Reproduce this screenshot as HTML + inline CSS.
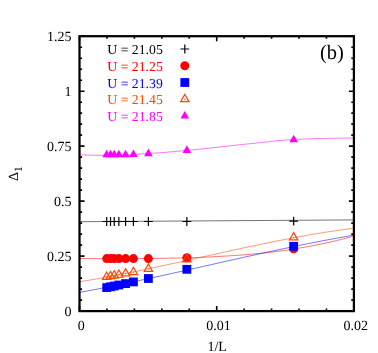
<!DOCTYPE html>
<html><head><meta charset="utf-8"><title>plot</title>
<style>html,body{margin:0;padding:0;background:#fff;}body{width:378px;height:353px;overflow:hidden;}svg{display:block;will-change:transform;}text{font-family:"Liberation Serif",serif;text-rendering:geometricPrecision;}</style></head><body>
<svg width="378" height="353" viewBox="0 0 378 353">
<rect width="378" height="353" fill="#fff"/>
<path d="M79.50,221.70 L353.90,219.90" fill="none" stroke="#000" stroke-width="0.55"/>
<path d="M79.50,258.60 L82.97,258.60 L86.45,258.60 L89.92,258.60 L93.39,258.60 L96.87,258.60 L100.34,258.60 L103.81,258.60 L107.29,258.60 L110.76,258.60 L114.23,258.60 L117.71,258.60 L121.18,258.60 L124.65,258.60 L128.13,258.60 L131.60,258.60 L135.07,258.60 L138.55,258.59 L142.02,258.57 L145.49,258.54 L148.97,258.51 L152.44,258.47 L155.92,258.42 L159.39,258.36 L162.86,258.31 L166.34,258.24 L169.81,258.17 L173.28,258.10 L176.76,258.03 L180.23,257.95 L183.70,257.88 L187.18,257.80 L190.65,257.71 L194.12,257.60 L197.60,257.48 L201.07,257.34 L204.54,257.19 L208.02,257.03 L211.49,256.85 L214.96,256.67 L218.44,256.48 L221.91,256.28 L225.38,256.08 L228.86,255.87 L232.33,255.65 L235.80,255.42 L239.28,255.17 L242.75,254.90 L246.22,254.62 L249.70,254.32 L253.17,254.01 L256.64,253.68 L260.12,253.34 L263.59,252.98 L267.06,252.62 L270.54,252.24 L274.01,251.83 L277.48,251.39 L280.96,250.91 L284.43,250.41 L287.91,249.89 L291.38,249.35 L294.85,248.80 L298.33,248.23 L301.80,247.65 L305.27,247.04 L308.75,246.41 L312.22,245.76 L315.69,245.09 L319.17,244.40 L322.64,243.69 L326.11,242.96 L329.59,242.20 L333.06,241.41 L336.53,240.59 L340.01,239.74 L343.48,238.87 L346.95,237.97 L350.43,237.04 L353.90,236.10" fill="none" stroke="#ff0000" stroke-width="0.55"/>
<path d="M79.50,281.75 L82.97,281.18 L86.45,280.61 L89.92,280.03 L93.39,279.43 L96.87,278.82 L100.34,278.21 L103.81,277.58 L107.29,276.94 L110.76,276.29 L114.23,275.64 L117.71,274.97 L121.18,274.30 L124.65,273.62 L128.13,272.93 L131.60,272.23 L135.07,271.53 L138.55,270.81 L142.02,270.10 L145.49,269.37 L148.97,268.64 L152.44,267.91 L155.92,267.17 L159.39,266.42 L162.86,265.68 L166.34,264.92 L169.81,264.17 L173.28,263.41 L176.76,262.65 L180.23,261.88 L183.70,261.11 L187.18,260.34 L190.65,259.57 L194.12,258.80 L197.60,258.03 L201.07,257.26 L204.54,256.49 L208.02,255.71 L211.49,254.94 L214.96,254.17 L218.44,253.40 L221.91,252.63 L225.38,251.87 L228.86,251.10 L232.33,250.34 L235.80,249.59 L239.28,248.83 L242.75,248.08 L246.22,247.34 L249.70,246.60 L253.17,245.86 L256.64,245.13 L260.12,244.40 L263.59,243.68 L267.06,242.97 L270.54,242.26 L274.01,241.56 L277.48,240.87 L280.96,240.19 L284.43,239.51 L287.91,238.84 L291.38,238.18 L294.85,237.53 L298.33,236.89 L301.80,236.26 L305.27,235.64 L308.75,235.03 L312.22,234.43 L315.69,233.84 L319.17,233.26 L322.64,232.70 L326.11,232.15 L329.59,231.61 L333.06,231.08 L336.53,230.57 L340.01,230.07 L343.48,229.58 L346.95,229.11 L350.43,228.65 L353.90,228.21" fill="none" stroke="#ff4500" stroke-width="0.55"/>
<path d="M79.50,292.40 L82.97,291.76 L86.45,291.12 L89.92,290.47 L93.39,289.81 L96.87,289.15 L100.34,288.48 L103.81,287.80 L107.29,287.12 L110.76,286.42 L114.23,285.73 L117.71,285.02 L121.18,284.31 L124.65,283.60 L128.13,282.88 L131.60,282.15 L135.07,281.42 L138.55,280.69 L142.02,279.95 L145.49,279.21 L148.97,278.46 L152.44,277.71 L155.92,276.95 L159.39,276.19 L162.86,275.43 L166.34,274.67 L169.81,273.90 L173.28,273.13 L176.76,272.36 L180.23,271.59 L183.70,270.81 L187.18,270.03 L190.65,269.26 L194.12,268.48 L197.60,267.70 L201.07,266.91 L204.54,266.13 L208.02,265.35 L211.49,264.57 L214.96,263.79 L218.44,263.00 L221.91,262.22 L225.38,261.44 L228.86,260.66 L232.33,259.89 L235.80,259.11 L239.28,258.33 L242.75,257.56 L246.22,256.79 L249.70,256.02 L253.17,255.26 L256.64,254.49 L260.12,253.73 L263.59,252.97 L267.06,252.22 L270.54,251.47 L274.01,250.72 L277.48,249.98 L280.96,249.24 L284.43,248.51 L287.91,247.78 L291.38,247.06 L294.85,246.34 L298.33,245.63 L301.80,244.92 L305.27,244.22 L308.75,243.52 L312.22,242.83 L315.69,242.15 L319.17,241.48 L322.64,240.81 L326.11,240.14 L329.59,239.49 L333.06,238.84 L336.53,238.20 L340.01,237.57 L343.48,236.95 L346.95,236.33 L350.43,235.73 L353.90,235.13" fill="none" stroke="#0000ff" stroke-width="0.55"/>
<path d="M79.50,154.90 L82.97,154.99 L86.45,155.08 L89.92,155.15 L93.39,155.22 L96.87,155.27 L100.34,155.30 L103.81,155.33 L107.29,155.36 L110.76,155.38 L114.23,155.39 L117.71,155.40 L121.18,155.35 L124.65,155.22 L128.13,155.02 L131.60,154.79 L135.07,154.52 L138.55,154.13 L142.02,153.85 L145.49,153.63 L148.97,153.43 L152.44,153.24 L155.92,153.04 L159.39,152.80 L162.86,152.54 L166.34,152.25 L169.81,151.96 L173.28,151.65 L176.76,151.33 L180.23,151.01 L183.70,150.69 L187.18,150.36 L190.65,150.03 L194.12,149.69 L197.60,149.34 L201.07,148.99 L204.54,148.63 L208.02,148.25 L211.49,147.88 L214.96,147.50 L218.44,147.13 L221.91,146.75 L225.38,146.36 L228.86,145.98 L232.33,145.60 L235.80,145.21 L239.28,144.83 L242.75,144.46 L246.22,144.09 L249.70,143.73 L253.17,143.37 L256.64,142.99 L260.12,142.61 L263.59,142.22 L267.06,141.83 L270.54,141.45 L274.01,141.08 L277.48,140.73 L280.96,140.41 L284.43,140.11 L287.91,139.85 L291.38,139.62 L294.85,139.44 L298.33,139.27 L301.80,139.12 L305.27,138.98 L308.75,138.85 L312.22,138.73 L315.69,138.63 L319.17,138.53 L322.64,138.45 L326.11,138.38 L329.59,138.31 L333.06,138.25 L336.53,138.19 L340.01,138.13 L343.48,138.09 L346.95,138.05 L350.43,138.02 L353.90,138.00" fill="none" stroke="#ff00ff" stroke-width="0.55"/>
<path d="M102.31,221.50H111.11M106.71,217.10V225.90" stroke="#000" stroke-width="1.2" fill="none"/>
<path d="M106.12,221.50H114.92M110.52,217.10V225.90" stroke="#000" stroke-width="1.2" fill="none"/>
<path d="M109.79,221.50H118.59M114.19,217.10V225.90" stroke="#000" stroke-width="1.2" fill="none"/>
<path d="M114.45,221.50H123.25M118.85,217.10V225.90" stroke="#000" stroke-width="1.2" fill="none"/>
<path d="M121.18,221.50H129.98M125.58,217.10V225.90" stroke="#000" stroke-width="1.2" fill="none"/>
<path d="M129.02,221.50H137.82M133.42,217.10V225.90" stroke="#000" stroke-width="1.2" fill="none"/>
<path d="M143.97,221.50H152.78M148.38,217.10V225.90" stroke="#000" stroke-width="1.2" fill="none"/>
<path d="M182.44,221.50H191.24M186.84,217.10V225.90" stroke="#000" stroke-width="1.2" fill="none"/>
<path d="M289.27,221.20H298.07M293.67,216.80V225.60" stroke="#000" stroke-width="1.2" fill="none"/>
<circle cx="106.71" cy="258.60" r="4.50" fill="#ff0000"/>
<circle cx="110.52" cy="258.60" r="4.50" fill="#ff0000"/>
<circle cx="114.19" cy="258.60" r="4.50" fill="#ff0000"/>
<circle cx="118.85" cy="258.60" r="4.50" fill="#ff0000"/>
<circle cx="125.58" cy="258.60" r="4.50" fill="#ff0000"/>
<circle cx="133.42" cy="258.60" r="4.50" fill="#ff0000"/>
<circle cx="148.38" cy="258.60" r="4.50" fill="#ff0000"/>
<circle cx="186.84" cy="257.70" r="4.50" fill="#ff0000"/>
<circle cx="293.67" cy="248.70" r="4.50" fill="#ff0000"/>
<rect x="102.31" y="283.20" width="8.80" height="8.80" fill="#0000ff"/>
<rect x="106.12" y="282.40" width="8.80" height="8.80" fill="#0000ff"/>
<rect x="109.79" y="281.60" width="8.80" height="8.80" fill="#0000ff"/>
<rect x="114.45" y="280.60" width="8.80" height="8.80" fill="#0000ff"/>
<rect x="121.18" y="279.20" width="8.80" height="8.80" fill="#0000ff"/>
<rect x="129.02" y="277.50" width="8.80" height="8.80" fill="#0000ff"/>
<rect x="143.97" y="274.10" width="8.80" height="8.80" fill="#0000ff"/>
<rect x="182.44" y="264.90" width="8.80" height="8.80" fill="#0000ff"/>
<rect x="289.27" y="241.90" width="8.80" height="8.80" fill="#0000ff"/>
<path d="M106.71,272.13L102.51,279.43L110.91,279.43Z" fill="none" stroke="#ff4500" stroke-width="1.2"/>
<circle cx="106.71" cy="277.00" r="0.7" fill="#ff4500"/>
<path d="M110.52,271.43L106.32,278.73L114.72,278.73Z" fill="none" stroke="#ff4500" stroke-width="1.2"/>
<circle cx="110.52" cy="276.30" r="0.7" fill="#ff4500"/>
<path d="M114.19,270.73L109.99,278.03L118.39,278.03Z" fill="none" stroke="#ff4500" stroke-width="1.2"/>
<circle cx="114.19" cy="275.60" r="0.7" fill="#ff4500"/>
<path d="M118.85,269.93L114.65,277.23L123.05,277.23Z" fill="none" stroke="#ff4500" stroke-width="1.2"/>
<circle cx="118.85" cy="274.80" r="0.7" fill="#ff4500"/>
<path d="M125.58,268.63L121.38,275.93L129.78,275.93Z" fill="none" stroke="#ff4500" stroke-width="1.2"/>
<circle cx="125.58" cy="273.50" r="0.7" fill="#ff4500"/>
<path d="M133.42,267.23L129.22,274.53L137.62,274.53Z" fill="none" stroke="#ff4500" stroke-width="1.2"/>
<circle cx="133.42" cy="272.10" r="0.7" fill="#ff4500"/>
<path d="M148.38,264.03L144.18,271.33L152.57,271.33Z" fill="none" stroke="#ff4500" stroke-width="1.2"/>
<circle cx="148.38" cy="268.90" r="0.7" fill="#ff4500"/>
<path d="M186.84,254.53L182.64,261.83L191.04,261.83Z" fill="none" stroke="#ff4500" stroke-width="1.2"/>
<circle cx="186.84" cy="259.40" r="0.7" fill="#ff4500"/>
<path d="M293.67,232.53L289.47,239.83L297.87,239.83Z" fill="none" stroke="#ff4500" stroke-width="1.2"/>
<circle cx="293.67" cy="237.40" r="0.7" fill="#ff4500"/>
<path d="M106.71,149.73L102.36,157.33L111.06,157.33Z" fill="#ff00ff"/>
<path d="M110.52,149.73L106.17,157.33L114.87,157.33Z" fill="#ff00ff"/>
<path d="M114.19,149.73L109.84,157.33L118.54,157.33Z" fill="#ff00ff"/>
<path d="M118.85,149.73L114.50,157.33L123.20,157.33Z" fill="#ff00ff"/>
<path d="M125.58,149.63L121.23,157.23L129.93,157.23Z" fill="#ff00ff"/>
<path d="M133.42,149.43L129.07,157.03L137.77,157.03Z" fill="#ff00ff"/>
<path d="M148.38,148.53L144.03,156.13L152.72,156.13Z" fill="#ff00ff"/>
<path d="M186.84,145.33L182.49,152.93L191.19,152.93Z" fill="#ff00ff"/>
<path d="M293.67,134.63L289.32,142.23L298.02,142.23Z" fill="#ff00ff"/>
<path d="M79.50,311.10V306.10M79.50,36.20V41.20M106.94,311.10V308.50M106.94,36.20V38.80M134.38,311.10V308.50M134.38,36.20V38.80M161.82,311.10V308.50M161.82,36.20V38.80M189.26,311.10V308.50M189.26,36.20V38.80M216.70,311.10V306.10M216.70,36.20V41.20M244.14,311.10V308.50M244.14,36.20V38.80M271.58,311.10V308.50M271.58,36.20V38.80M299.02,311.10V308.50M299.02,36.20V38.80M326.46,311.10V308.50M326.46,36.20V38.80M353.90,311.10V306.10M353.90,36.20V41.20M79.50,311.10H84.50M353.90,311.10H348.90M79.50,300.10H82.10M353.90,300.10H351.30M79.50,289.11H82.10M353.90,289.11H351.30M79.50,278.11H82.10M353.90,278.11H351.30M79.50,267.12H82.10M353.90,267.12H351.30M79.50,256.12H84.50M353.90,256.12H348.90M79.50,245.12H82.10M353.90,245.12H351.30M79.50,234.13H82.10M353.90,234.13H351.30M79.50,223.13H82.10M353.90,223.13H351.30M79.50,212.14H82.10M353.90,212.14H351.30M79.50,201.14H84.50M353.90,201.14H348.90M79.50,190.14H82.10M353.90,190.14H351.30M79.50,179.15H82.10M353.90,179.15H351.30M79.50,168.15H82.10M353.90,168.15H351.30M79.50,157.16H82.10M353.90,157.16H351.30M79.50,146.16H84.50M353.90,146.16H348.90M79.50,135.16H82.10M353.90,135.16H351.30M79.50,124.17H82.10M353.90,124.17H351.30M79.50,113.17H82.10M353.90,113.17H351.30M79.50,102.18H82.10M353.90,102.18H351.30M79.50,91.18H84.50M353.90,91.18H348.90M79.50,80.18H82.10M353.90,80.18H351.30M79.50,69.19H82.10M353.90,69.19H351.30M79.50,58.19H82.10M353.90,58.19H351.30M79.50,47.20H82.10M353.90,47.20H351.30M79.50,36.20H84.50M353.90,36.20H348.90" stroke="#000" stroke-width="1.6" fill="none"/>
<rect x="79.50" y="36.20" width="274.40" height="274.90" fill="none" stroke="#000" stroke-width="2.25"/>
<text x="71.6" y="316.00" font-size="14.00" text-anchor="end">0</text>
<text x="71.6" y="261.02" font-size="14.00" text-anchor="end">0.25</text>
<text x="71.6" y="206.04" font-size="14.00" text-anchor="end">0.5</text>
<text x="71.6" y="151.06" font-size="14.00" text-anchor="end">0.75</text>
<text x="71.6" y="96.08" font-size="14.00" text-anchor="end">1</text>
<text x="71.6" y="41.10" font-size="14.00" text-anchor="end">1.25</text>
<text x="81.30" y="329.7" font-size="14.00" text-anchor="middle">0</text>
<text x="218.50" y="329.7" font-size="14.00" text-anchor="middle">0.01</text>
<text x="355.70" y="329.7" font-size="14.00" text-anchor="middle">0.02</text>
<text x="217.20" y="351.3" font-size="14.00" text-anchor="middle">1/L</text>
<text transform="translate(17.6,180.9) rotate(-90)" font-size="14.00">Δ<tspan font-size="11.4" dy="4.3">1</tspan></text>
<text x="320.0" y="59" font-size="20.5">(b)</text>
<text x="107.3" y="54.00" font-size="13.60" fill="#000" textLength="55.5" lengthAdjust="spacingAndGlyphs">U = 21.05</text>
<text x="107.3" y="70.75" font-size="13.60" fill="#ff0000" textLength="55.5" lengthAdjust="spacingAndGlyphs">U = 21.25</text>
<text x="107.3" y="87.50" font-size="13.60" fill="#0000ff" textLength="55.5" lengthAdjust="spacingAndGlyphs">U = 21.39</text>
<text x="107.3" y="104.25" font-size="13.60" fill="#ff4500" textLength="55.5" lengthAdjust="spacingAndGlyphs">U = 21.45</text>
<text x="107.3" y="121.00" font-size="13.60" fill="#ff00ff" textLength="55.5" lengthAdjust="spacingAndGlyphs">U = 21.85</text>
<path d="M180.40,49.00H189.20M184.80,44.60V53.40" stroke="#000" stroke-width="1.2" fill="none"/>
<circle cx="184.80" cy="65.75" r="4.50" fill="#ff0000"/>
<rect x="180.40" y="78.10" width="8.80" height="8.80" fill="#0000ff"/>
<path d="M184.80,94.38L180.60,101.68L189.00,101.68Z" fill="none" stroke="#ff4500" stroke-width="1.2"/>
<circle cx="184.80" cy="99.25" r="0.7" fill="#ff4500"/>
<path d="M184.80,110.93L180.45,118.53L189.15,118.53Z" fill="#ff00ff"/>
</svg></body></html>
